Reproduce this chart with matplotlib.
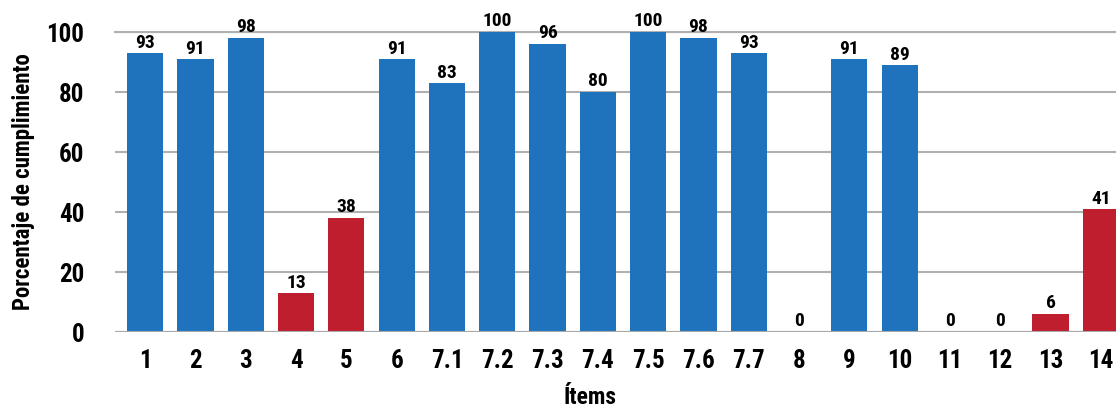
import matplotlib
matplotlib.use("Agg")
import matplotlib.pyplot as plt
from matplotlib import font_manager

# datos
items = ['1', '2', '3', '4', '5', '6', '7.1', '7.2', '7.3', '7.4', '7.5', '7.6',
         '7.7', '8', '9', '10', '11', '12', '13', '14']
valores = [93, 91, 98, 13, 38, 91, 83, 100, 96, 80, 100, 98, 93, 0, 91, 89, 0, 0, 6, 41]
bajos = ['4', '5', '13', '14']

nombres = {f.name for f in font_manager.fontManager.ttflist}
fuente = [f for f in ['Liberation Sans Narrow', 'Roboto Condensed', 'DejaVu Sans'] if f in nombres]
plt.rcParams['font.family'] = fuente
plt.rcParams['font.weight'] = 'bold'

azul = '#1f73bc'
rojo = '#be1e2d'
colores = [rojo if it in bajos else azul for it in items]

fig = plt.figure(figsize=(11.16, 4.12), dpi=100)
ax = fig.add_axes([115 / 1116, (412 - 332) / 412, 1016 / 1116, 300 / 412])

x = list(range(len(items)))
ax.bar(x, valores, width=0.72, color=colores, zorder=3)

for i, v in enumerate(valores):
    ax.text(i, v + 0.5, str(v), ha='center', va='bottom', fontsize=14,
            fontweight='bold', clip_on=False)

ax.set_ylim(0, 100)
ax.set_xlim(-0.6, 19.6)
ax.set_yticks(range(0, 101, 20))
ax.set_xticks(x)
ax.set_xticklabels(items)
ax.tick_params(axis='both', length=0, labelsize=18)
ax.tick_params(axis='x', pad=12)
ax.tick_params(axis='y', pad=22)
ax.yaxis.grid(True, color='#b0b0b0', linewidth=1.5, zorder=0)
for s in ax.spines.values():
    s.set_visible(False)
ax.axhline(0, color='#a8a8a8', linewidth=1.5, zorder=4)
ax.axhline(100, color='#b0b0b0', linewidth=1.5, zorder=0, clip_on=False)

ax.set_ylabel('Porcentaje de cumplimiento', fontsize=16.5, fontweight='bold', labelpad=8)
ax.set_xlabel('Ítems', fontsize=17, fontweight='bold')
ax.xaxis.set_label_coords((590 - 115) / 1016, -0.18)

fig.savefig('out.png', dpi=100)
